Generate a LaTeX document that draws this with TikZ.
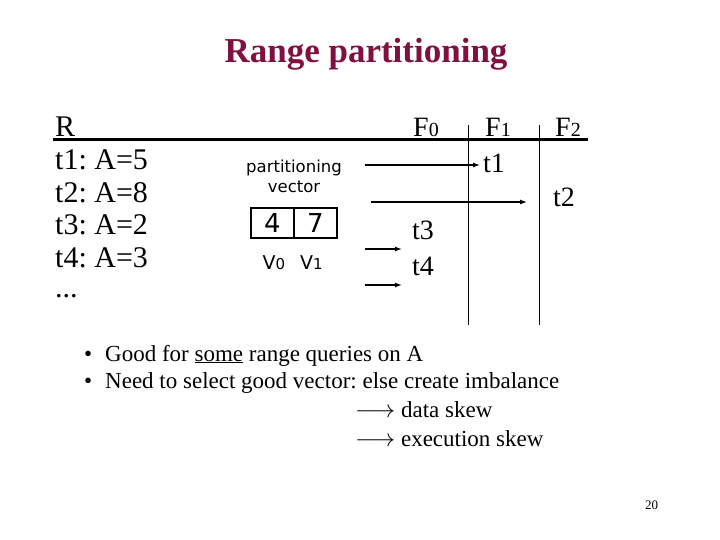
\documentclass[tikz,border=0pt]{standalone}
\usepackage{fontspec}
\setmainfont{Liberation Serif}
\newfontfamily\vecfont{DejaVu Sans}
\usetikzlibrary{positioning, arrows.meta, calc}
\definecolor{slide_maroon}{RGB}{128,16,64}
\colorlet{titlered}{slide_maroon}
\tikzset{
  slidetitle/.style={font=\fontsize{35}{35}\selectfont\bfseries,text=titlered,inner sep=0pt,anchor=base},
  tuple/.style={font=\fontsize{30}{30}\selectfont,anchor=base west,inner sep=0pt},
  fraglabel/.style={font=\fontsize{28}{28}\selectfont,anchor=base west,inner sep=0pt},
  vecnote/.style={font=\vecfont\fontsize{16.5}{20}\selectfont,align=center,inner sep=0pt},
  veccell/.style={draw,line width=1.2pt,outer sep=0pt,minimum width=43pt,minimum height=30pt,inner sep=0pt,font=\vecfont\fontsize{26}{26}\selectfont},
  vecindex/.style={font=\vecfont\fontsize{19}{19}\selectfont,inner sep=0pt},
  route/.style={line width=1.3pt,-{Latex[length=7pt,width=5pt]}},
  divider/.style={line width=0.9pt},
  bulletline/.style={font=\fontsize{23}{23}\selectfont,anchor=base west,inner sep=0pt},
}
\newcommand{\smalldigit}[1]{{\fontsize{20}{20}\selectfont #1}}
\frenchspacing
\begin{document}
\begin{tikzpicture}[x=1pt,y=-1pt]
	    \useasboundingbox (0,0) rectangle (720,540);
	    \node[slidetitle] (head) at (366,63) {Range partitioning};
	    % relation R and its tuples
	    \node[tuple] (rel) at (55,137) {R};
	    \node[tuple] (tA) at (55,170) {t1: A=5};
	    \node[tuple] (tB) at (55,202.5) {t2: A=8};
	    \node[tuple] (tC) at (55,235) {t3: A=2};
	    \node[tuple] (tD) at (55,267.5) {t4: A=3};
	    \node[tuple] (more) at (55,297) {...};
	    % fragments
	    \node[fraglabel] (F0) at (413,137) {F\smalldigit{0}};
	    \node[fraglabel] (F1) at (485,137) {F\smalldigit{1}};
	    \node[fraglabel] (F2) at (555,137) {F\smalldigit{2}};
	    \coordinate (ruleL) at (53,140);
	    \coordinate (ruleR) at (588,140);
	    \draw[line width=3pt] (ruleL) -- (ruleR);
	    \coordinate (d1t) at (468,125);
	    \coordinate (d1b) at (468,325);
	    \coordinate (d2t) at (539,125);
	    \coordinate (d2b) at (539,325);
	    \draw[divider] (d1t) -- (d1b);
	    \draw[divider] (d2t) -- (d2b);
	    % partitioning vector
	    \node[veccell] (v0) at (272.5,223) {4};
	    \node[veccell,right=0pt of v0] (v1) {7};
	    \node[vecnote,above=15pt of v0.north east] (pv) {partitioning\\vector};
	    \node[vecindex,below=17pt of v0,xshift=1.5pt] (l0) {V{\fontsize{15}{15}\selectfont 0}};
	    \node[vecindex,below=17pt of v1,xshift=-4pt] (l1) {V{\fontsize{15}{15}\selectfont 1}};
	    % tuples placed in fragments
	    \node[fraglabel] (rA) at (483,172.7) {t1};
	    \node[fraglabel] (rB) at (553,207) {t2};
	    \node[fraglabel] (rC) at (412,240) {t3};
	    \node[fraglabel] (rD) at (412,275) {t4};
	    \coordinate (a1) at (365,165);
	    \coordinate (a2) at (371,202);
	    \coordinate (a3) at (365,249);
	    \coordinate (a4) at (365,285);
	    \draw[route,shorten >=3pt] (a1) -- (a1 -| rA.west);
	    \draw[route,shorten >=26pt] (a2) -- (a2 -| rB.west);
	    \draw[route,shorten >=10pt] (a3) -- (a3 -| rC.west);
	    \draw[route,shorten >=10pt] (a4) -- (a4 -| rD.west);
	    % remarks
	    \node[bulletline] (dot1) at (84,361) {•};
	    \node[bulletline] (good) at (105,361) {Good for \underline{some} range queries on A};
	    \node[bulletline] (dot2) at (84,388.5) {•};
	    \node[bulletline] (need) at (105,388.5) {Need to select good vector: else create imbalance};
	    \node[bulletline] (skew1) at (355,417) {$\longrightarrow$ data skew};
	    \node[bulletline] (skew2) at (355,446) {$\longrightarrow$ execution skew};
	    \node[font=\fontsize{13}{13}\selectfont,inner sep=0pt] (page) at (651.5,505) {20};
	\end{tikzpicture}
\end{document}
